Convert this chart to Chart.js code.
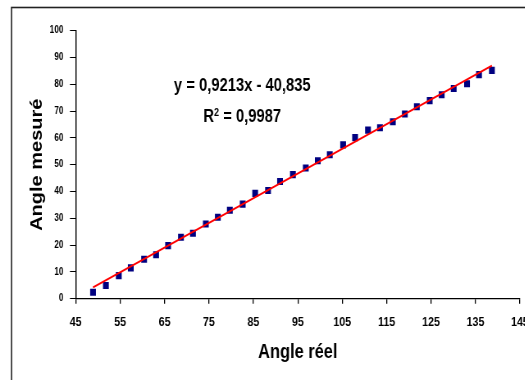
<!DOCTYPE html>
<html>
<head>
<meta charset="utf-8">
<script src="https://cdn.jsdelivr.net/npm/chart.js@4/dist/chart.umd.min.js"></script>
<style>
html,body{margin:0;background:#fff}
#wrap{width:525px;height:380px;overflow:hidden;position:relative}
/* narrow Excel-style look: draw wide, squeeze horizontally */
#inner{width:680px;height:380px;transform:scaleX(0.82);transform-origin:0 0}
</style>
</head>
<body>
<div id="wrap"><div id="inner"><canvas id="c" width="680" height="380"></canvas></div></div>
<script>
// measured vs real angle
const angleReel=[48.9,51.8,54.7,57.4,60.4,63.1,65.8,68.7,71.4,74.3,77.0,79.7,82.6,85.4,88.3,91.0,93.9,
  96.8,99.5,102.2,105.2,107.9,110.8,113.5,116.4,119.1,121.8,124.7,127.4,130.1,133.1,135.8,138.7];
const angleMesure=[2.4,4.9,8.6,11.5,14.7,16.4,19.8,22.9,24.4,27.9,30.4,33.0,35.3,39.3,40.4,43.7,46.3,
  48.8,51.5,53.7,57.4,60.1,62.9,63.8,66.0,68.9,71.6,73.9,76.1,78.4,80.2,83.6,85.2];

// axis ranges / tick steps
const xMin=45, xMax=145, xStep=10;
const yMin=0, yMax=100, yStep=10;

// linear trend (from the chart label)
const pente=0.9213, origine=-40.835, r2=0.9987;

const FONT='"Liberation Sans", Arial, sans-serif';
const fmt=(v,d)=>v.toFixed(d).replace('.',',');

const x0=Math.min(...angleReel), x1=Math.max(...angleReel);
const trend=[{x:x0,y:pente*x0+origine},{x:x1,y:pente*x1+origine}];
const points=angleReel.map((v,i)=>({x:v,y:angleMesure[i]}));

// outer frame of the chart area
const frame={
  id:'frame',
  afterDraw(chart){
    const ctx=chart.ctx;
    ctx.save();
    ctx.strokeStyle='#222'; ctx.lineWidth=1.6;
    ctx.strokeRect(14,7.5,2000,2000);
    ctx.restore();
  }
};

// regression equation + R²
const equation={
  id:'equation',
  afterDraw(chart){
    const {ctx,scales:{x,y}}=chart;
    const cx=x.getPixelForValue(82.5);
    const y1=y.getPixelForValue(77.6), y2=y.getPixelForValue(66.0);
    ctx.save();
    ctx.fillStyle='#000';
    ctx.textBaseline='alphabetic';
    ctx.font='bold 18px '+FONT;
    const eq='y = '+fmt(pente,4)+'x - '+fmt(-origine,3);
    ctx.textAlign='center';
    ctx.fillText(eq,cx,y1);
    // R² line, superscript drawn by hand
    ctx.textAlign='left';
    const big='bold 18px '+FONT, small='bold 11px '+FONT;
    const rest=' = '+fmt(r2,4);
    ctx.font=big; const wR=ctx.measureText('R').width, wRest=ctx.measureText(rest).width;
    ctx.font=small; const w2=ctx.measureText('2').width;
    let sx=cx-(wR+w2+wRest)/2;
    ctx.font=big; ctx.fillText('R',sx,y2); sx+=wR;
    ctx.font=small; ctx.fillText('2',sx,y2-6); sx+=w2;
    ctx.font=big; ctx.fillText(rest,sx,y2);
    ctx.restore();
  }
};

new Chart(document.getElementById('c'),{
  data:{
    datasets:[
      {type:'line',data:trend,borderColor:'#ff0000',borderWidth:2,pointRadius:0,fill:false},
      {type:'scatter',data:points,backgroundColor:'#000080',borderWidth:0,pointStyle:'rect',pointRadius:5}
    ]
  },
  options:{
    responsive:false,animation:false,devicePixelRatio:1,
    layout:{padding:{left:0,top:30.7,right:46,bottom:0}},
    plugins:{legend:{display:false},tooltip:{enabled:false}},
    scales:{
      x:{
        type:'linear',min:xMin,max:xMax,
        ticks:{stepSize:xStep,color:'#000',padding:11,maxRotation:0,autoSkip:false,
          font:{family:FONT,size:13,weight:'bold'}},
        grid:{drawOnChartArea:false,tickLength:5,color:'#000',lineWidth:1.3},
        border:{color:'#000',width:1.2},
        title:{display:true,text:'Angle réel',color:'#000',padding:{top:0,bottom:16},
          font:{family:FONT,size:20,weight:'bold'}},
        afterFit(s){s.height=81.3;s.paddingLeft=0;s.paddingRight=0;}
      },
      y:{
        type:'linear',min:yMin,max:yMax,
        ticks:{stepSize:yStep,color:'#000',padding:8,
          font:{family:FONT,size:10,weight:'bold'}},
        grid:{drawOnChartArea:false,tickLength:7,color:'#000',lineWidth:1},
        border:{color:'#000',width:1.4},
        title:{display:true,text:'Angle mesuré',color:'#000',padding:{top:33,bottom:0},
          font:{family:FONT,size:20,weight:'bold'}},
        afterFit(s){s.width=92.3;s.paddingTop=0;s.paddingBottom=0;}
      }
    }
  },
  plugins:[frame,equation]
});
</script>
</body>
</html>
